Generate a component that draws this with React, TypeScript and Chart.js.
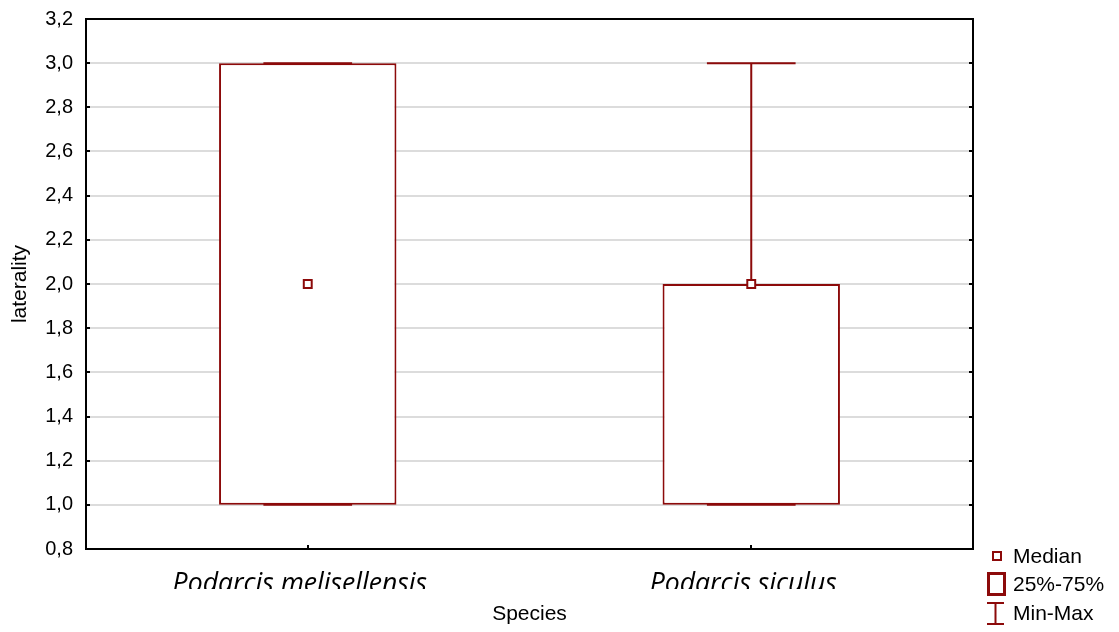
import React, { useEffect, useRef } from 'react';
import { Chart, registerables } from 'chart.js';

Chart.register(...registerables);

const categories = ['Podarcis melisellensis', 'Podarcis siculus'];
const q1Values = [1.0, 1.0];
const q3Values = [3.0, 2.0];
const medianValues = [2.0, 2.0];
const minValues = [1.0, 1.0];
const maxValues = [3.0, 3.0];
const yMin = 0.8;
const yMax = 3.2;
const yStep = 0.2;
const legendLabels = ['Median', '25%-75%', 'Min-Max'];

const RED = '#8c0a0a';
const FONT = '"Liberation Sans", Arial, sans-serif';

const boxPlugin = {
  id: 'boxExtras',
  afterDatasetDraw(chart: any, args: any) {
    if (args.index !== 0) return;
    const ctx = chart.ctx;
    const y = chart.scales.y;
    const meta = chart.getDatasetMeta(0);
    ctx.save();
    ctx.strokeStyle = RED;
    ctx.lineWidth = 2;
    meta.data.forEach((bar: any, i: number) => {
      const x = bar.x;
      const half = bar.width / 4;
      const pMax = y.getPixelForValue(maxValues[i]);
      const pMin = y.getPixelForValue(minValues[i]);
      const pQ3 = y.getPixelForValue(q3Values[i]);
      const pQ1 = y.getPixelForValue(q1Values[i]);
      ctx.beginPath();
      if (pMax < pQ3) { ctx.moveTo(x, pQ3); ctx.lineTo(x, pMax); }
      if (pMin > pQ1) { ctx.moveTo(x, pQ1); ctx.lineTo(x, pMin); }
      ctx.moveTo(x - half, pMax); ctx.lineTo(x + half, pMax);
      ctx.moveTo(x - half, pMin); ctx.lineTo(x + half, pMin);
      ctx.stroke();
    });
    ctx.restore();
  },
  afterDraw(chart: any) {
    const ctx = chart.ctx;
    const a = chart.chartArea;
    const y = chart.scales.y;
    const xs = chart.scales.x;
    ctx.save();
    // clip the bottom of the category labels
    ctx.fillStyle = '#ffffff';
    ctx.fillRect(a.left, a.bottom + 40, a.right - a.left, 14);
    // frame
    ctx.strokeStyle = '#000';
    ctx.lineWidth = 2;
    ctx.strokeRect(a.left, a.top, a.right - a.left, a.bottom - a.top);
    // inward ticks
    ctx.beginPath();
    y.ticks.forEach((t: any) => {
      const py = Math.round(y.getPixelForValue(t.value));
      ctx.moveTo(a.left, py); ctx.lineTo(a.left + 4, py);
      ctx.moveTo(a.right, py); ctx.lineTo(a.right - 4, py);
    });
    categories.forEach((_c, i) => {
      const px = Math.round(xs.getPixelForValue(i));
      ctx.moveTo(px, a.bottom); ctx.lineTo(px, a.bottom - 4);
    });
    ctx.stroke();
    // legend
    ctx.strokeStyle = RED;
    ctx.lineWidth = 2;
    ctx.strokeRect(993, 552, 8, 8);
    ctx.lineWidth = 3;
    ctx.strokeRect(988.5, 573.5, 16, 21);
    ctx.lineWidth = 2;
    ctx.beginPath();
    ctx.moveTo(987, 603); ctx.lineTo(1004, 603);
    ctx.moveTo(987, 624); ctx.lineTo(1004, 624);
    ctx.moveTo(995.5, 603); ctx.lineTo(995.5, 624);
    ctx.stroke();
    ctx.fillStyle = '#000';
    ctx.font = `21px ${FONT}`;
    ctx.textAlign = 'left';
    ctx.textBaseline = 'middle';
    ctx.fillText(legendLabels[0], 1013, 557);
    ctx.fillText(legendLabels[1], 1013, 585);
    ctx.fillText(legendLabels[2], 1013, 614);
    ctx.restore();
  },
};

export default function App() {
  const ref = useRef<HTMLCanvasElement>(null);
  useEffect(() => {
    document.body.style.margin = '0';
    const chart = new Chart(ref.current as HTMLCanvasElement, {
      type: 'bar',
      data: {
        labels: categories,
        datasets: [
          {
            type: 'bar',
            data: q1Values.map((v, i) => [v, q3Values[i]]) as any,
            backgroundColor: '#ffffff',
            borderColor: RED,
            borderWidth: 2,
            borderSkipped: false,
            barPercentage: 0.4,
            categoryPercentage: 1,
            order: 1,
          },
          {
            type: 'line',
            data: medianValues,
            showLine: false,
            pointStyle: 'rect',
            pointRadius: 5.6,
            pointBorderWidth: 2,
            pointBorderColor: RED,
            pointBackgroundColor: '#ffffff',
            order: 0,
          } as any,
        ],
      },
      options: {
        responsive: false,
        animation: false,
        layout: { padding: { left: 0, right: 146, top: 19, bottom: 0 } },
        plugins: { legend: { display: false }, tooltip: { enabled: false } },
        scales: {
          x: {
            offset: true,
            grid: { display: false, drawTicks: false },
            border: { display: false },
            ticks: {
              color: '#000',
              padding: 19,
              maxRotation: 0,
              labelOffset: -8,
              font: { family: '"Open Sans", "Noto Sans", sans-serif', size: 26.6, style: 'italic' },
            },
            title: {
              display: true,
              text: 'Species',
              color: '#000',
              font: { family: FONT, size: 21 },
              padding: { top: 0, bottom: 5 },
            },
            afterFit: (s: any) => { s.height = 83; s.paddingLeft = 0; s.paddingRight = 0; },
          },
          y: {
            min: yMin,
            max: yMax,
            grid: { color: '#dcdcdc', lineWidth: 2, drawTicks: false },
            border: { display: false },
            ticks: {
              stepSize: yStep,
              color: '#000',
              padding: 13,
              font: { family: FONT, size: 20 },
              callback: (v: any) => Number(v).toFixed(1).replace('.', ','),
            },
            title: {
              display: true,
              text: 'laterality',
              color: '#000',
              font: { family: FONT, size: 21 },
              padding: { top: 8, bottom: 0 },
            },
            afterFit: (s: any) => { s.width = 86; s.paddingTop = 0; s.paddingBottom = 0; },
          },
        },
      },
      plugins: [boxPlugin],
    });
    return () => chart.destroy();
  }, []);
  return (
    <div style={{ position: 'absolute', left: 0, top: 0, width: 1119, height: 632 }}>
      <canvas ref={ref} width={1119} height={632} />
    </div>
  );
}
